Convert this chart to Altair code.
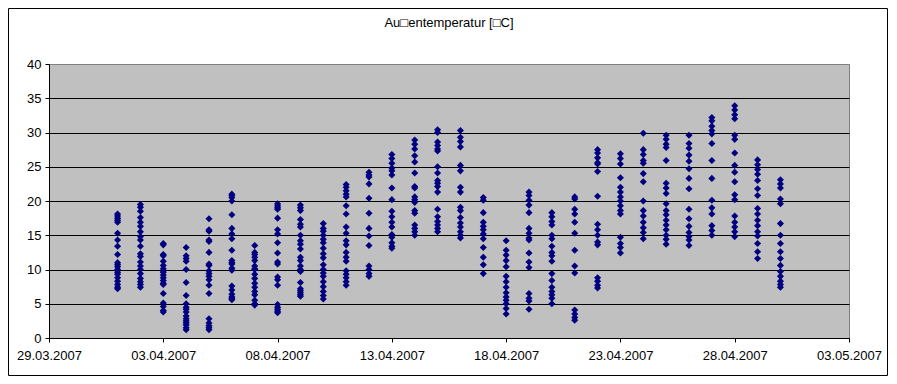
import altair as alt
import pandas as pd

chart_title = "Au\u25a1entemperatur [\u25a1C]"

days = ["2007-04-%02d" % d for d in range(1, 31)]

t01 = [18.1, 17.8, 17.5, 17.2, 16.9, 15.3, 14.3, 13.4, 12.2, 11.0, 10.7, 10.4, 10.0, 9.6, 9.3, 8.8, 8.3, 7.8, 7.4, 7.2]
t02 = [19.5, 19.1, 18.5, 17.6, 16.9, 16.3, 15.5, 14.8, 14.3, 13.4, 12.3, 11.9, 11.1, 10.5, 10.0, 9.4, 8.7, 8.2, 7.8, 7.4]
t03 = [13.8, 13.6, 12.2, 12.0, 11.2, 10.6, 10.1, 9.8, 9.6, 9.2, 8.8, 8.4, 8.0, 7.8, 6.5, 5.1, 4.6, 4.0, 3.8]
t04 = [13.2, 12.0, 11.6, 11.2, 10.0, 8.1, 6.2, 5.0, 4.5, 4.2, 3.8, 3.2, 2.8, 2.5, 2.2, 1.9, 1.5, 1.2]
t05 = [17.4, 15.8, 15.6, 14.3, 14.1, 12.5, 10.8, 10.6, 9.8, 9.4, 9.0, 8.5, 7.7, 6.5, 2.8, 2.2, 1.8, 1.5, 1.2]
t06 = [21.0, 20.8, 20.5, 20.0, 18.0, 16.0, 15.2, 14.5, 12.8, 11.3, 11.0, 10.8, 10.2, 9.9, 7.6, 7.0, 6.4, 6.0, 5.8, 5.6]
t07 = [13.5, 12.5, 12.2, 11.8, 11.3, 10.5, 10.1, 10.0, 9.3, 8.7, 8.0, 7.4, 6.8, 6.3, 5.5, 5.0, 4.8]
t08 = [19.6, 19.3, 19.0, 18.8, 17.5, 15.8, 15.2, 13.9, 12.4, 11.1, 10.8, 8.9, 8.5, 7.7, 4.9, 4.5, 4.2, 3.9, 3.7]
t09 = [19.4, 19.0, 18.6, 17.3, 16.6, 16.2, 15.0, 14.2, 13.7, 13.0, 11.8, 11.3, 10.5, 10.0, 9.7, 8.1, 7.2, 6.9, 6.6, 6.3, 6.1]
t10 = [16.7, 16.0, 15.6, 15.0, 14.4, 13.9, 13.1, 12.3, 11.7, 10.7, 10.0, 9.5, 9.0, 8.2, 7.5, 6.8, 6.2, 5.7]
t11 = [22.4, 22.0, 21.5, 21.0, 20.6, 19.3, 18.1, 16.2, 15.3, 14.2, 13.6, 12.5, 11.8, 11.2, 9.8, 9.3, 8.8, 8.2, 7.7]
t12 = [24.2, 23.8, 23.5, 22.5, 20.4, 18.2, 16.0, 14.9, 13.5, 10.5, 10.0, 9.4, 9.0]
t13 = [26.8, 26.2, 25.5, 24.8, 24.4, 23.8, 21.9, 20.2, 18.5, 17.7, 16.9, 16.2, 15.1, 14.7, 13.9, 13.4, 13.1]
t14 = [28.9, 28.3, 27.6, 26.6, 25.7, 24.1, 22.1, 21.9, 20.6, 20.2, 19.8, 18.6, 18.2, 16.5, 16.0, 15.5, 15.0]
t15 = [30.4, 30.0, 28.6, 28.1, 27.6, 27.3, 25.0, 24.1, 23.0, 22.6, 22.1, 21.3, 18.8, 17.7, 17.0, 16.5, 16.0, 15.5]
t16 = [30.3, 29.3, 28.7, 27.9, 25.2, 24.4, 22.0, 21.3, 19.1, 18.6, 17.6, 16.8, 16.2, 15.5, 15.0, 14.6]
t17 = [20.5, 20.1, 18.3, 16.9, 16.3, 15.8, 15.2, 14.5, 13.2, 11.8, 10.7, 9.4]
t18 = [14.2, 12.8, 12.1, 11.3, 10.4, 9.0, 8.2, 7.4, 6.6, 6.0, 5.5, 5.0, 4.3, 3.5]
t19 = [21.3, 20.8, 20.1, 19.4, 18.3, 16.0, 15.3, 14.6, 14.3, 12.4, 11.1, 10.3, 6.5, 5.8, 5.4, 4.2]
t20 = [18.3, 17.7, 17.0, 16.5, 15.0, 14.5, 13.4, 12.5, 12.0, 11.2, 9.4, 8.4, 7.4, 6.8, 6.3, 5.8, 5.0]
t21 = [20.6, 20.3, 18.8, 18.1, 16.9, 15.3, 12.8, 10.5, 9.5, 4.1, 3.5, 3.0, 2.6]
t22 = [27.5, 27.0, 26.3, 25.6, 25.4, 24.3, 20.7, 16.6, 15.8, 15.0, 14.0, 13.6, 8.8, 8.3, 7.7, 7.3]
t23 = [26.9, 26.2, 25.4, 23.4, 22.0, 21.3, 20.6, 20.0, 19.3, 18.6, 18.1, 14.7, 13.8, 13.2, 12.4]
t24 = [29.9, 27.5, 26.8, 25.9, 25.5, 24.0, 22.8, 20.0, 18.6, 17.8, 16.9, 16.1, 15.4, 14.5]
t25 = [29.6, 29.0, 28.3, 27.8, 25.9, 22.6, 21.9, 21.1, 19.6, 18.6, 18.0, 17.2, 16.5, 15.8, 15.0, 14.4, 13.7]
t26 = [29.6, 28.4, 27.7, 26.7, 25.8, 24.7, 23.3, 21.8, 18.8, 17.4, 16.3, 15.4, 14.8, 14.3, 13.5]
t27 = [32.2, 31.7, 30.9, 30.3, 29.8, 28.4, 25.9, 23.3, 20.1, 19.0, 18.1, 16.4, 15.7, 15.0]
t28 = [33.9, 33.3, 32.6, 32.0, 29.6, 29.0, 27.0, 25.2, 24.2, 22.8, 20.9, 20.2, 17.8, 16.9, 16.2, 15.5, 14.8]
t29 = [26.0, 25.3, 24.6, 23.9, 23.0, 21.8, 20.8, 18.9, 18.1, 17.2, 16.4, 15.5, 14.9, 13.8, 12.6, 11.6]
t30 = [23.1, 22.5, 21.9, 20.3, 19.6, 16.7, 15.0, 13.8, 12.6, 11.6, 10.6, 9.7, 9.0, 8.3, 7.8, 7.4]

temps = [t01, t02, t03, t04, t05, t06, t07, t08, t09, t10,
         t11, t12, t13, t14, t15, t16, t17, t18, t19, t20,
         t21, t22, t23, t24, t25, t26, t27, t28, t29, t30]

x_tick_dates = [(2007, 3, 29), (2007, 4, 3), (2007, 4, 8), (2007, 4, 13),
                (2007, 4, 18), (2007, 4, 23), (2007, 4, 28), (2007, 5, 3)]
y_ticks = [0, 5, 10, 15, 20, 25, 30, 35, 40]

rows = [(d, v) for d, vals in zip(days, temps) for v in vals]
df = pd.DataFrame(rows, columns=["datum", "temp"])


def dt(t):
    return alt.DateTime(year=t[0], month=t[1], date=t[2], utc=True)


FONT = "Liberation Sans"

points = alt.Chart(df).mark_point(
    shape="diamond", filled=True, color="#000080", size=50, opacity=1
).encode(
    x=alt.X("datum:T",
            scale=alt.Scale(type="utc", domain=[dt(x_tick_dates[0]), dt(x_tick_dates[-1])]),
            axis=alt.Axis(values=[dt(t) for t in x_tick_dates],
                          labelExpr="utcFormat(datum.value, '%d.%m.%Y')",
                          title=None, grid=False, labelFlush=False, labelOverlap=False,
                          labelBound=False,
                          labelPadding=7, tickSize=4)),
    y=alt.Y("temp:Q",
            scale=alt.Scale(domain=[0, 40], nice=False),
            axis=alt.Axis(values=y_ticks, title=None, grid=True, labelFlush=False,
                          gridColor={"condition": {"test": "datum.value >= 40", "value": "#808080"},
                                     "value": "#000000"},
                          tickSize=4, labelPadding=4)),
)

title_mark = alt.Chart(pd.DataFrame({"t": [chart_title]})).mark_text(
    font=FONT, fontSize=13, color="black", align="center", baseline="middle"
).encode(text="t:N", x=alt.value(400), y=alt.value(-41))

border = alt.Chart(pd.DataFrame({"a": [0]})).mark_rect(
    fillOpacity=0, stroke="black", strokeWidth=1
).encode(x=alt.value(-40.5), x2=alt.value(838.5), y=alt.value(-55.5), y2=alt.value(311.5))

chart = alt.layer(points, title_mark, border).properties(
    width=800, height=274,
    padding={"left": 41, "top": 56, "right": 39, "bottom": 38},
    autosize=alt.AutoSizeParams(type="none"),
    background="white",
).configure_view(
    fill="#C0C0C0", stroke="#808080", strokeWidth=1
).configure_axis(
    domainColor="black", tickColor="black", labelColor="black",
    labelFont=FONT, labelFontSize=13, gridWidth=1, domainWidth=1, tickWidth=1
)

chart.save("out.html", embed_options={"renderer": "svg", "actions": False})
